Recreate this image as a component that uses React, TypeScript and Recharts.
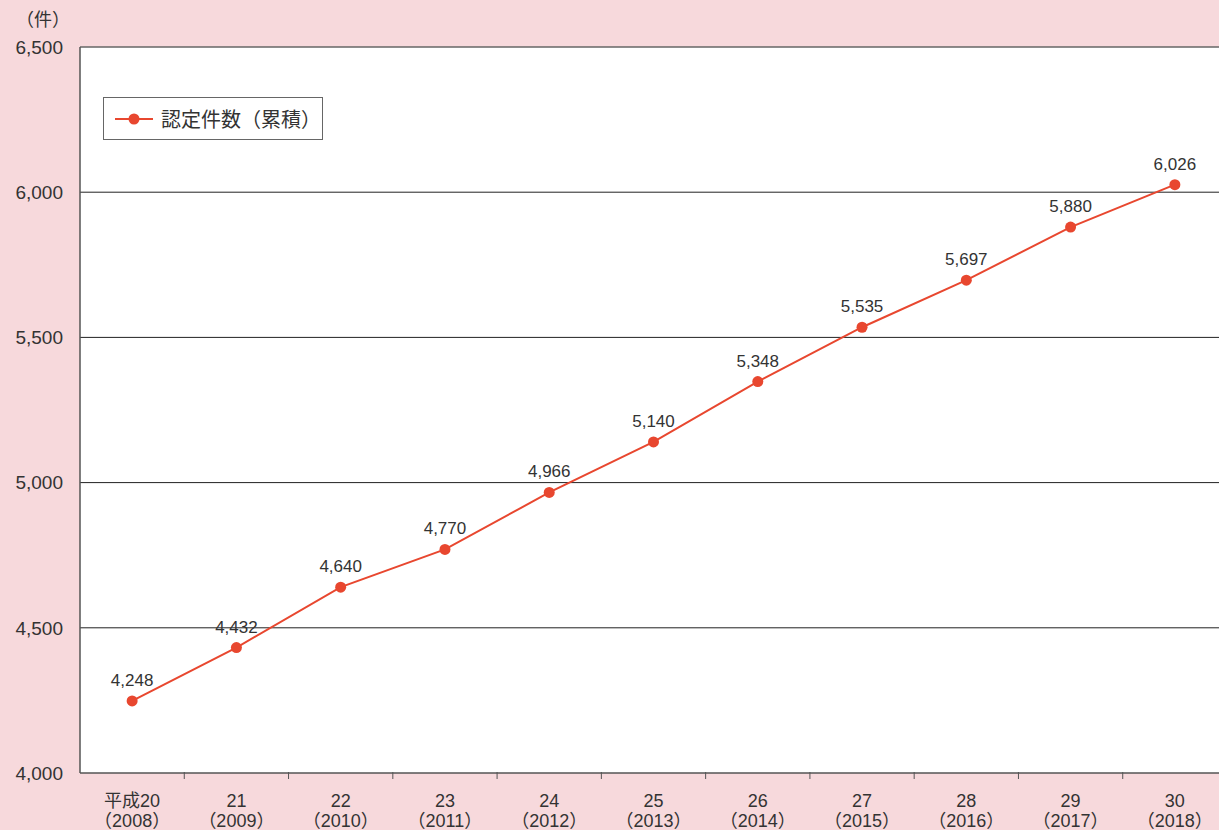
import { LineChart, Line, XAxis, YAxis, CartesianGrid, ReferenceLine, Legend, LabelList } from "recharts";

const eraLabels = ["平成20", "21", "22", "23", "24", "25", "26", "27", "28", "29", "30"];
const yearLabels = ["2008", "2009", "2010", "2011", "2012", "2013", "2014", "2015", "2016", "2017", "2018"];
const certifiedCounts = [4248, 4432, 4640, 4770, 4966, 5140, 5348, 5535, 5697, 5880, 6026];
const yTicks = [4000, 4500, 5000, 5500, 6000, 6500];

const data = eraLabels.map((era, i) => ({
  era,
  year: yearLabels[i],
  value: certifiedCounts[i],
}));

const FONT = '"Liberation Sans", "Noto Sans CJK JP", sans-serif';
const RED = "#e8472f";
const WIDTH = 1219;
const HEIGHT = 830;
const CHART_WIDTH = 1227; // plot runs a little past the page edge
const PLOT_LEFT = 80;
const band = (CHART_WIDTH - PLOT_LEFT) / data.length;

const fmt = (v: number) => v.toLocaleString("en-US");

function XTick({ x, y, index }: any) {
  const d = data[index];
  return (
    <g>
      {index < data.length - 1 && (
        <line x1={x + band / 2} x2={x + band / 2} y1={y} y2={y - 7} stroke="#555" strokeWidth={1} />
      )}
      <text x={x} y={y + 28} textAnchor="middle" fill="#333" fontSize={18} fontFamily={FONT}>
        {d.era}
      </text>
      <text x={x} y={y + 48} textAnchor="middle" fill="#333" fontSize={18} fontFamily={FONT}>
        {`（${d.year}）`}
      </text>
    </g>
  );
}

function LegendBox() {
  return (
    <div
      style={{
        position: "absolute",
        left: 103,
        top: 97,
        width: 220,
        height: 43,
        boxSizing: "border-box",
        border: "1px solid #666",
        background: "#fff",
        display: "flex",
        alignItems: "center",
        fontFamily: FONT,
        fontSize: 20,
        color: "#333",
      }}
    >
      <svg width={46} height={20} style={{ marginLeft: 11 }}>
        <line x1={0} x2={38} y1={10} y2={10} stroke={RED} strokeWidth={2} />
        <circle cx={19} cy={10} r={5.5} fill={RED} />
      </svg>
      <span>認定件数（累積）</span>
    </div>
  );
}

export default function App() {
  return (
    <div
      style={{
        position: "absolute",
        left: 0,
        top: 0,
        width: WIDTH,
        height: HEIGHT,
        background: "#f7d9dc",
        fontFamily: FONT,
        overflow: "hidden",
      }}
    >
      <div style={{ position: "absolute", left: 16, top: 5, fontSize: 18, color: "#333" }}>（件）</div>
      <LineChart
        width={CHART_WIDTH}
        height={HEIGHT}
        data={data}
        margin={{ top: 47, right: 0, bottom: 0, left: 0 }}
      >
        <CartesianGrid
          vertical={false}
          horizontalValues={[4500, 5000, 5500, 6000]}
          stroke="#222"
          fill="#fff"
          strokeDasharray=""
        />
        <ReferenceLine y={6500} stroke="#666" strokeWidth={1.5} />
        <XAxis
          dataKey="era"
          scale="band"
          height={57}
          axisLine={{ stroke: "#555", strokeWidth: 1.5 }}
          tickLine={false}
          tick={<XTick />}
          tickMargin={0}
          interval={0}
        />
        <YAxis
          width={PLOT_LEFT}
          domain={[4000, 6500]}
          ticks={yTicks}
          tickFormatter={fmt}
          axisLine={{ stroke: "#555", strokeWidth: 1.5 }}
          tickLine={false}
          tick={{ fill: "#333", fontSize: 19, fontFamily: FONT }}
          tickMargin={11}
        />
        <Legend content={() => <LegendBox />} wrapperStyle={{ position: "absolute", left: 0, top: 0, width: 0, height: 0 }} />
        <Line
          type="linear"
          dataKey="value"
          stroke={RED}
          strokeWidth={2}
          dot={{ r: 5.5, fill: RED, stroke: RED, strokeWidth: 0 }}
          activeDot={false}
          isAnimationActive={false}
        >
          <LabelList
            dataKey="value"
            position="top"
            offset={15}
            formatter={(v: any) => fmt(Number(v))}
            style={{ fill: "#333", fontSize: 17, fontFamily: FONT }}
          />
        </Line>
      </LineChart>
    </div>
  );
}
